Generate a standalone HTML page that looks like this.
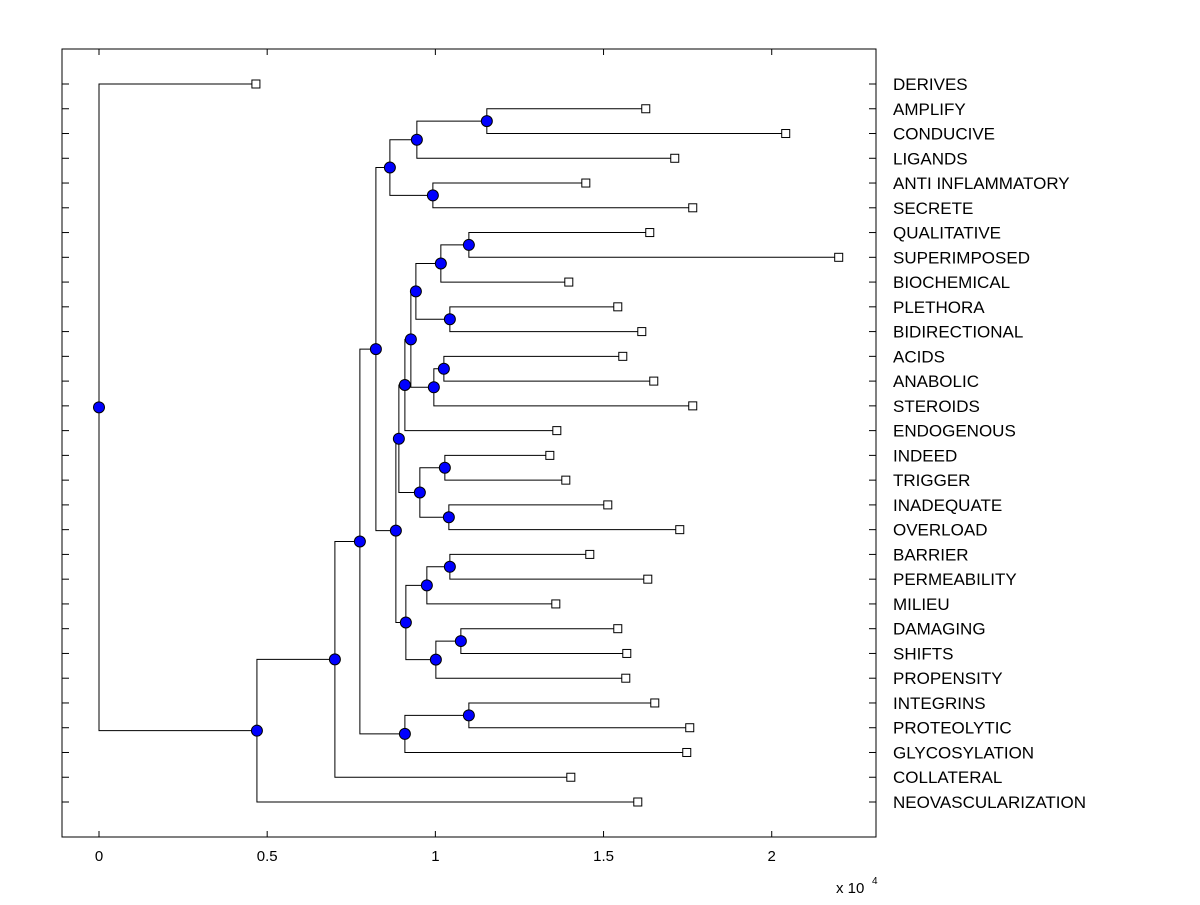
<!DOCTYPE html>
<html><head><meta charset="utf-8"><style>
body{margin:0;background:#fff;}
svg text{font-family:"Liberation Sans",Arial,sans-serif;}
</style></head><body>
<svg id="chart" width="1200" height="900" viewBox="0 0 1200 900" xmlns="http://www.w3.org/2000/svg">
<rect x="0" y="0" width="1200" height="900" fill="#fff"/>
<g id="plot"></g>
</svg>
<script>
const leafLabels = ["DERIVES","AMPLIFY","CONDUCIVE","LIGANDS","ANTI INFLAMMATORY","SECRETE","QUALITATIVE","SUPERIMPOSED","BIOCHEMICAL","PLETHORA","BIDIRECTIONAL","ACIDS","ANABOLIC","STEROIDS","ENDOGENOUS","INDEED","TRIGGER","INADEQUATE","OVERLOAD","BARRIER","PERMEABILITY","MILIEU","DAMAGING","SHIFTS","PROPENSITY","INTEGRINS","PROTEOLYTIC","GLYCOSYLATION","COLLATERAL","NEOVASCULARIZATION"];
const leafValues = [4665,16255,20416,17117,14473,17652,16374,21991,13967,15423,16137,15572,16493,17652,13611,13403,13878,15126,17266,14591,16315,13581,15423,15691,15661,16523,17563,17474,14027,16018];
const mergeLeft  = [1,30,4,31,6,34,9,35,11,38,37,40,15,17,42,41,19,46,22,48,47,45,33,25,53,52,55,56,0];
const mergeRight = [2,3,5,32,7,8,10,36,12,13,39,14,16,18,43,44,20,21,23,24,49,50,51,26,27,54,28,29,57];
const mergeValues = [11530,9450,9926,8648,10996,10163,10431,9421,10253,9955,9272,9094,10282,10401,9539,8915,10431,9747,10758,10015,9123,8826,8232,10996,9094,7756,7013,4695,0];
const xTicks = [0,5000,10000,15000,20000];
const xTickLabels = ["0","0.5","1","1.5","2"];

const L=62,R=876,T=49,B=837;
const xMin=-1100,xMax=23100;
const xs=v=>L+(v-xMin)/(xMax-xMin)*(R-L);
const rowY=i=>84+i*(802-84)/(leafLabels.length-1);
const NS="http://www.w3.org/2000/svg";
const g=document.getElementById('plot');
function mk(tag,attrs){const e=document.createElementNS(NS,tag);for(const k in attrs)e.setAttribute(k,attrs[k]);g.appendChild(e);return e;}

const box=mk('rect',{x:L,y:T,width:R-L,height:B-T,fill:'none',stroke:'#000','stroke-width':1});



leafLabels.forEach((lab,i)=>{
  const y=rowY(i);
  const t1=mk('line',{x1:L,y1:y,x2:L+7,y2:y,stroke:'#000'});
  
  
  const t2=mk('line',{x1:R,y1:y,x2:R-7,y2:y,stroke:'#000'});
  
  
  const tx=mk('text',{x:893,y:y+6,'font-size':17,fill:'#000'});
  tx.textContent=lab;
  
  
});
xTicks.forEach((v,i)=>{
  const x=xs(v);
  const a=mk('line',{x1:x,y1:B,x2:x,y2:B-6,stroke:'#000'});
  
  
  const b=mk('line',{x1:x,y1:T,x2:x,y2:T+6,stroke:'#000'});
  
  
  const tx=mk('text',{x:x,y:861,'font-size':15,'text-anchor':'middle',fill:'#000'});
  tx.textContent=xTickLabels[i];
  
  
});
const ex=mk('text',{x:836,y:893,'font-size':15,fill:'#000'});
ex.textContent='x 10';


const ex2=mk('text',{x:872,y:884,'font-size':10,fill:'#000'});
ex2.textContent='4';



const n=leafLabels.length;
const nodeX=[],nodeY=[];
for(let i=0;i<n;i++){nodeX.push(xs(leafValues[i]));nodeY.push(rowY(i));}
const dots=[];
mergeValues.forEach((v,k)=>{
  const a=mergeLeft[k],b=mergeRight[k];
  const px=xs(v);
  const y=(nodeY[a]+nodeY[b])/2;
  const e1=mk('path',{d:`M${nodeX[a]},${nodeY[a]} H${px} V${nodeY[b]} H${nodeX[b]}`,fill:'none',stroke:'#000','stroke-width':1});
  
  
  nodeX.push(px);nodeY.push(y);
  dots.push([px,y]);
});
for(let i=0;i<n;i++){
  const s=mk('rect',{x:nodeX[i]-4,y:nodeY[i]-4,width:8,height:8,fill:'#fff',stroke:'#000','stroke-width':1});
  
  
}
dots.forEach(([x,y])=>{
  const c=mk('circle',{cx:x,cy:y,r:5.5,fill:'#0000ff',stroke:'#000','stroke-width':1});
  
  
});
</script>
</body></html>
